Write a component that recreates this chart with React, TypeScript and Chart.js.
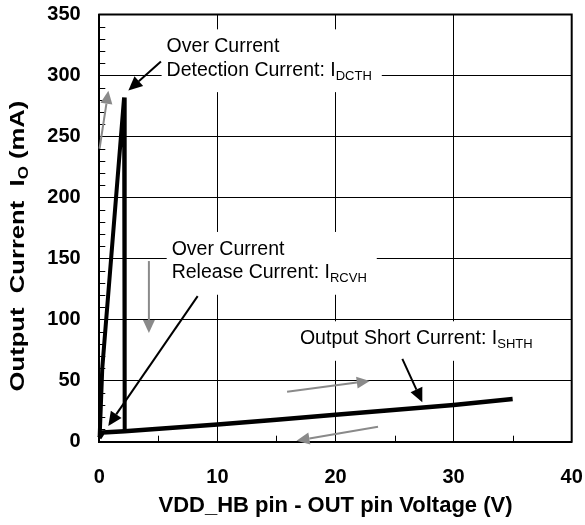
import React, { useEffect, useRef } from "react";
import { Chart, registerables } from "chart.js";

Chart.register(...registerables);

// ---- data (V, mA) ----
const xTickValues = [0, 10, 20, 30, 40];
const yTickValues = [0, 50, 100, 150, 200, 250, 300, 350];
const xMinorTicks = [5, 15, 25, 35];
const yMinorTicks = [10, 20, 30, 40, 60, 70, 80, 90, 110, 120, 130, 140, 160, 170, 180, 190, 210, 220, 230, 240, 260, 270, 280, 290, 310, 320, 330, 340];

// Over current detection spike
const spikeX = [0.03, 0.25, 2.1, 2.15];
const spikeY = [4, 60, 282, 8.5];

// Output short current line
const shortX = [0, 0.3, 2.15, 10, 15, 20, 30, 35];
const shortY = [3, 7.5, 8.5, 14, 18, 22, 30, 35];

// arrows: tail x, tail y, tip x, tip y (data units)
const grayArrows = [
  [0.02, 240, 0.77, 287.5],
  [4.2, 148, 4.2, 89],
  [15.9, 41, 22.9, 49.8],
  [23.6, 12.3, 16.7, 0.8],
];
const blackArrows = [
  [5.22, 311.5, 2.46, 287.7],
  [8.33, 119.3, 0.76, 12.9],
  [25.66, 67.8, 27.35, 32.3],
];

// annotation texts: anchor (data units) at first baseline, lines of [text, subscript]
const annotations = [
  { x: 5.7, y: 319, padR: 10, lines: [["Over Current", ""], ["Detection Current: I", "DCTH"]] },
  { x: 6.13, y: 153, padR: 10, lines: [["Over Current", ""], ["Release Current: I", "RCVH"]] },
  { x: 16.99, y: 79.8, padR: 28, lines: [["Output Short Current: I", "SHTH"]] },
];

const FONT = '"Liberation Sans", Arial, sans-serif';

function drawArrow(ctx: CanvasRenderingContext2D, x1: number, y1: number, x2: number, y2: number, color: string, width: number, headLen: number, headHalf: number) {
  const ang = Math.atan2(y2 - y1, x2 - x1);
  const bx = x2 - headLen * Math.cos(ang);
  const by = y2 - headLen * Math.sin(ang);
  ctx.strokeStyle = color;
  ctx.fillStyle = color;
  ctx.lineWidth = width;
  ctx.beginPath();
  ctx.moveTo(x1, y1);
  ctx.lineTo(bx, by);
  ctx.stroke();
  ctx.beginPath();
  ctx.moveTo(x2, y2);
  ctx.lineTo(bx + headHalf * Math.sin(ang), by - headHalf * Math.cos(ang));
  ctx.lineTo(bx - headHalf * Math.sin(ang), by + headHalf * Math.cos(ang));
  ctx.closePath();
  ctx.fill();
}

const overlayPlugin = {
  id: "overlay",
  afterDatasetsDraw(chart: any) {
    const { ctx, chartArea: a, scales } = chart;
    const xs = scales.x;
    const ys = scales.y;
    ctx.save();
    // top and right frame
    ctx.strokeStyle = "#000";
    ctx.lineWidth = 2;
    ctx.beginPath();
    ctx.moveTo(a.left - 1, a.top);
    ctx.lineTo(a.right, a.top);
    ctx.lineTo(a.right, a.bottom + 1);
    ctx.stroke();
    // minor ticks
    ctx.lineWidth = 1;
    ctx.beginPath();
    for (const v of yMinorTicks) {
      const py = Math.round(ys.getPixelForValue(v)) + 0.5;
      ctx.moveTo(a.left, py);
      ctx.lineTo(a.left + 6, py);
    }
    for (const v of xMinorTicks) {
      const px = Math.round(xs.getPixelForValue(v)) + 0.5;
      ctx.moveTo(px, a.bottom);
      ctx.lineTo(px, a.bottom - 6);
    }
    ctx.stroke();

    // annotation boxes and texts
    const mainSize = 19.5;
    const subSize = 13;
    const lineGap = 23.3;
    for (const an of annotations) {
      const lx = xs.getPixelForValue(an.x);
      const by = ys.getPixelForValue(an.y);
      let maxW = 0;
      for (const [t, s] of an.lines) {
        ctx.font = `${mainSize}px ${FONT}`;
        let w = ctx.measureText(t).width;
        if (s) {
          ctx.font = `${subSize}px ${FONT}`;
          w += ctx.measureText(s).width;
        }
        maxW = Math.max(maxW, w);
      }
      const top = by - 23;
      const bottom = by + (an.lines.length - 1) * lineGap + 16.5;
      ctx.fillStyle = "#fff";
      ctx.fillRect(lx - 5, top, maxW + 5 + an.padR, bottom - top);
      ctx.fillStyle = "#000";
      ctx.textBaseline = "alphabetic";
      ctx.textAlign = "left";
      an.lines.forEach(([t, s], i) => {
        const yy = by + i * lineGap;
        ctx.font = `${mainSize}px ${FONT}`;
        ctx.fillText(t, lx, yy);
        if (s) {
          const w = ctx.measureText(t).width;
          ctx.font = `${subSize}px ${FONT}`;
          ctx.fillText(s, lx + w, yy + 4);
        }
      });
    }

    // arrows
    for (const [x1, y1, x2, y2] of grayArrows) {
      drawArrow(ctx, xs.getPixelForValue(x1), ys.getPixelForValue(y1), xs.getPixelForValue(x2), ys.getPixelForValue(y2), "#8a8a8a", 2, 13, 6);
    }
    for (const [x1, y1, x2, y2] of blackArrows) {
      drawArrow(ctx, xs.getPixelForValue(x1), ys.getPixelForValue(y1), xs.getPixelForValue(x2), ys.getPixelForValue(y2), "#000", 2, 14, 6.5);
    }

    // y axis title with subscript
    const parts: [string, number, number][] = [
      ["Output  Current  I", 21, 0],
      ["O", 14, 4],
      [" (mA)", 21, 0],
    ];
    const stretch = 1.22;
    let total = 0;
    for (const [t, sz] of parts) {
      ctx.font = `bold ${sz}px ${FONT}`;
      total += ctx.measureText(t).width;
    }
    ctx.translate(16, 246);
    ctx.rotate(-Math.PI / 2);
    ctx.scale(stretch, 1);
    let cx = -total / 2;
    ctx.fillStyle = "#000";
    ctx.textBaseline = "alphabetic";
    for (const [t, sz, off] of parts) {
      ctx.font = `bold ${sz}px ${FONT}`;
      ctx.fillText(t, cx, 7.5 + off);
      cx += ctx.measureText(t).width;
    }
    ctx.restore();
  },
};

export default function App() {
  const ref = useRef<HTMLCanvasElement | null>(null);
  useEffect(() => {
    document.body.style.margin = "0";
    const canvas = ref.current!;
    const chart = new Chart(canvas, {
      type: "scatter",
      data: {
        datasets: [
          {
            data: spikeX.map((x, i) => ({ x, y: spikeY[i] })),
            showLine: true,
            borderColor: "#000",
            borderWidth: 4,
            pointRadius: 0,
            clip: false as any,
          },
          {
            data: shortX.map((x, i) => ({ x, y: shortY[i] })),
            showLine: true,
            borderColor: "#000",
            borderWidth: 4.5,
            pointRadius: 0,
            clip: false as any,
          },
        ],
      },
      options: {
        responsive: false,
        animation: false,
        devicePixelRatio: 1,
        layout: { padding: { left: 0, top: 14.5, right: 13.3, bottom: 0 } },
        plugins: { legend: { display: false }, tooltip: { enabled: false }, title: { display: false } },
        scales: {
          x: {
            type: "linear",
            min: 0,
            max: 40,
            afterBuildTicks: (s: any) => {
              s.ticks = xTickValues.map((v) => ({ value: v }));
            },
            afterFit: (s: any) => {
              s.height = 83.3;
              s.paddingLeft = 0;
              s.paddingRight = 0;
            },
            ticks: { font: { family: FONT, size: 20, weight: "bold" }, color: "#000", padding: 24, maxRotation: 0 },
            grid: { color: "#000", lineWidth: 1, drawTicks: false },
            border: { color: "#000", width: 2 },
            title: {
              display: true,
              text: "VDD_HB pin - OUT pin Voltage (V)",
              font: { family: FONT, size: 22, weight: "bold" },
              color: "#000",
              padding: { top: 0, bottom: 6.3 },
            },
          },
          y: {
            type: "linear",
            min: 0,
            max: 350,
            afterBuildTicks: (s: any) => {
              s.ticks = yTickValues.map((v) => ({ value: v }));
            },
            afterFit: (s: any) => {
              s.width = 99.3;
              s.paddingTop = 0;
              s.paddingBottom = 0;
            },
            ticks: { font: { family: FONT, size: 20, weight: "bold" }, color: "#000", padding: 18.6 },
            grid: { color: "#000", lineWidth: 1, drawTicks: false },
            border: { color: "#000", width: 2 },
          },
        },
      },
      plugins: [overlayPlugin],
    } as any);
    return () => chart.destroy();
  }, []);
  return <canvas ref={ref} width={585} height={525} style={{ display: "block" }} />;
}
